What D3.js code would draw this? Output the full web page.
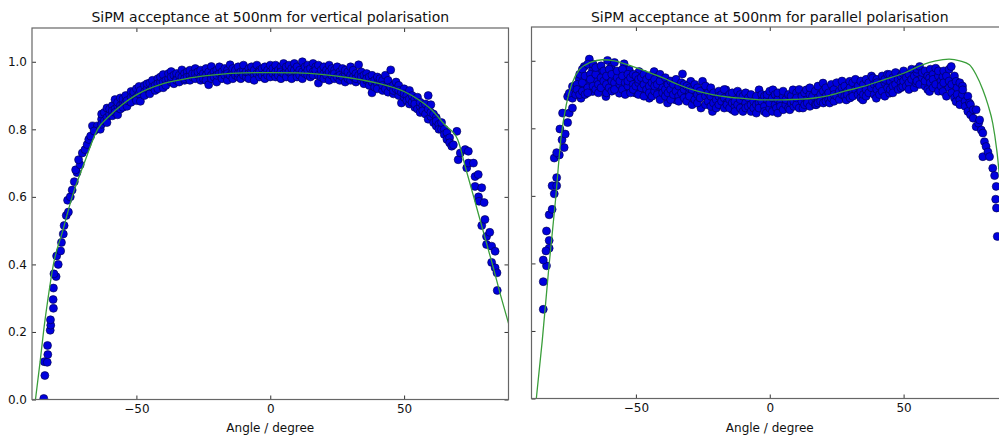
<!DOCTYPE html>
<html>
<head>
<meta charset="utf-8">
<script src="https://cdn.jsdelivr.net/npm/d3@7"></script>
<style>
  body { margin: 0; background: #fff; }
  svg { display: block; font-family: "DejaVu Sans", sans-serif; }
</style>
</head>
<body>
<svg id="chart" width="999" height="437"></svg>
<script>
// titles and tick values
let titles = ["SiPM acceptance at 500nm for vertical polarisation",
              "SiPM acceptance at 500nm for parallel polarisation"];
let xLabel = "Angle / degree";
let xTicks = [-50, 0, 50];
let yTicks = [0, 0.2, 0.4, 0.6, 0.8, 1.0];

// measured points [angle, acceptance] - vertical polarisation
let vertScatter = [
  [-84.6,0.003],[-84.2,0.071],[-84.4,0.112],[-83.3,0.11],[-83.1,0.133],[-83.2,0.16],[-82.2,0.205],[-82,0.22],
  [-82.1,0.236],[-81,0.27],[-81.1,0.296],[-81,0.33],[-80,0.364],[-80.8,0.372],[-79.2,0.4],[-79.8,0.425],
  [-78.3,0.44],[-78,0.465],[-77.3,0.49],[-77,0.515],[-76.2,0.545],[-75.4,0.555],[-75.7,0.59],[-74.7,0.6],
  [-74,0.62],[-73.2,0.645],[-72.2,0.672],[-72.7,0.68],[-71,0.695],[-71.6,0.71],[-70.2,0.73],[-69.2,0.74],
  [-68.4,0.755],[-67.8,0.77],[-67.1,0.78],[-66.4,0.81],[-64.5,0.81],[-65.8,0.795],[-63.5,0.8],
  [-63,0.83],[-63,0.815],[-63,0.845],[-62,0.825],[-62,0.85],[-61,0.863],[-61,0.835],[-61,0.82],
  [-60,0.845],[-60,0.86],[-59,0.84],[-59,0.87],[-59,0.855],[-58,0.888],[-58,0.86],[-58,0.85],
  [-57,0.843],[-57,0.87],[-57,0.88],[-56,0.893],[-56,0.87],[-56,0.86],[-55,0.875],[-55,0.89],[-55,0.865],
  [-54,0.9],[-54,0.88],[-53.5,0.868],[-53.5,0.885],[-52,0.912],[-52,0.895],[-52,0.88],[-51,0.9],[-51,0.91],
  [-50,0.92],[-50,0.895],[-50,0.885],[-49,0.927],[-49,0.905],[-48.5,0.883],[-48.5,0.915],
  [-47,0.93],[-47,0.91],[-47,0.9],[-46,0.92],[-46,0.935],[-45,0.937],[-45,0.915],[-45,0.905],
  [-44,0.925],[-44,0.945],[-43,0.93],[-43,0.915],[-42,0.95],[-42,0.935],[-42,0.92],[-41,0.94],[-41,0.955],
  [-40,0.962],[-40,0.923],[-40,0.94],[-39,0.945],[-39,0.93],[-38,0.95],[-38,0.965],
  [-37,0.971],[-37,0.94],[-37,0.955],[-36,0.935],[-36,0.96],[-35,0.95],[-35,0.965],[-35,0.945],
  [-34,0.96],[-34,0.94],[-33,0.976],[-33,0.955],[-32,0.945],[-32,0.965],[-32,0.95],[-31,0.97],[-31,0.955],
  [-30,0.96],[-30,0.945],[-30,0.975],[-29,0.955],[-29,0.965],[-28,0.98],[-28,0.95],[-28,0.965],
  [-27,0.96],[-27,0.97],[-26,0.955],[-26,0.975],[-26,0.945],[-25,0.965],[-25,0.95],
  [-24,0.98],[-24,0.96],[-24,0.945],[-23,0.932],[-23,0.97],[-22,0.986],[-22,0.96],[-22,0.95],
  [-21,0.97],[-21,0.955],[-20,0.94],[-20,0.975],[-20,0.96],[-19,0.965],[-19,0.985],
  [-18,0.955],[-18,0.97],[-18,0.95],[-17,0.98],[-17,0.96],[-16,0.945],[-16,0.975],[-16,0.965],
  [-15,0.991],[-15,0.96],[-14,0.97],[-14,0.95],[-14,0.98],[-13,0.96],[-13,0.975],
  [-12,0.985],[-12,0.955],[-12,0.965],[-11,0.97],[-11,0.95],[-10,0.975],[-10,0.96],[-10,0.99],
  [-9,0.955],[-9,0.97],[-8,0.98],[-8,0.965],[-8,0.95],[-7,0.97],[-7,0.985],
  [-6,0.96],[-6,0.945],[-6,0.975],[-5,0.99],[-5,0.965],[-4,0.955],[-4,0.975],[-4,0.97],
  [-3,0.98],[-3,0.96],[-2,0.965],[-2,0.95],[-2,0.985],[-1,0.975],[-1,0.96],
  [0,0.97],[0,0.99],[0,0.955],[1,0.965],[1,0.98],[2,0.99],[2,0.955],[2,0.97],[3,0.975],[3,0.96],
  [4,0.985],[4,0.95],[4,0.97],[5,0.995],[5,0.965],[6,0.975],[6,0.955],[6,0.985],[7,0.97],[7,0.99],
  [8,0.96],[8,0.98],[8,0.95],[9,0.975],[9,0.995],[10,0.965],[10,0.985],[10,0.955],[11,0.975],[11,0.96],
  [12,1.0],[12,0.97],[12,0.95],[13,0.985],[13,0.965],[14,0.96],[14,0.99],[14,0.975],[15,0.955],[15,0.98],
  [16,0.995],[16,0.97],[16,0.96],[17,0.985],[17,0.975],[18,0.937],[18,0.96],[18,0.99],[19,0.975],[19,0.955],
  [20,0.965],[20,0.985],[20,0.95],[21,0.975],[21,0.96],[22,0.99],[22,0.945],[22,0.97],[23,0.96],[23,0.98],
  [24,0.95],[24,0.975],[24,0.965],[25,0.985],[25,0.955],[26,0.97],[26,0.945],[26,0.96],[27,0.98],[27,0.955],
  [28,0.965],[28,0.94],[28,0.975],[29,0.95],[29,0.97],[30,0.96],[30,0.985],[30,0.945],[31,0.975],[31,0.955],
  [32,0.94],[32,0.965],[32,0.95],[33,0.991],[33,0.96],[34,0.945],[34,0.97],[34,0.955],[35,0.935],[35,0.96],
  [36,0.965],[36,0.945],[36,0.95],[37,0.955],[37,0.93],[38,0.908],[38,0.96],[38,0.94],[39,0.945],[39,0.925],
  [40,0.955],[40,0.935],[40,0.92],[41,0.94],[41,0.95],[42,0.915],[42,0.945],[42,0.93],[43,0.96],[43,0.92],
  [44,0.935],[44,0.91],[44,0.945],[45,0.976],[45,0.925],[46,0.93],[46,0.905],[46,0.915],[47,0.94],[47,0.92],
  [48,0.9],[48,0.93],[48,0.915],[49,0.878],[49,0.91],[50,0.92],[50,0.895],[50,0.905],[51,0.9],[51,0.885],
  [52,0.915],[52,0.875],[52,0.89],[53,0.88],[53,0.9],[54,0.865],[54,0.89],[54,0.875],[55,0.895],[55,0.86],
  [56,0.868],[56,0.88],[56,0.85],[57,0.87],[57,0.855],[58,0.845],[58,0.875],[59,0.9],[59,0.86],[59,0.83],
  [60,0.873],[60,0.838],[60,0.85],[61,0.82],[61,0.845],[62,0.835],[62,0.81],[62,0.825],[63,0.815],[63,0.8],
  [64,0.8],[64,0.82],[65,0.8],[65,0.785],[66,0.79],[66,0.77],[67,0.775],[67,0.76],[67.8,0.75],[68.4,0.754],
  [69.7,0.794],[70.2,0.71],[71,0.73],[72.8,0.74],[73.4,0.686],[74,0.735],[74,0.70],[75.9,0.70],
  [76.5,0.66],[76.5,0.631],[77.7,0.666],[77.8,0.6],[78,0.587],[79,0.627],[79,0.515],[79.9,0.583],
  [80.2,0.533],[80.8,0.483],[80.8,0.459],[82,0.495],[82.7,0.454],[82.7,0.406],[84,0.439],[84,0.39],
  [84.7,0.375],[84.8,0.323]
];

// fitted curve
let vertFit = [
  [-87.7,0],[-86,0.11],[-84.7,0.2],[-83,0.3],[-81,0.4],[-77.5,0.5],[-74,0.6],[-69.5,0.7],[-64.5,0.8],
  [-60,0.84],[-55,0.875],[-50,0.902],[-40,0.935],[-30,0.952],[-20,0.962],[-10,0.967],[0,0.968],
  [10,0.967],[20,0.962],[30,0.952],[40,0.937],[50,0.912],[55,0.89],[60,0.86],[65,0.815],[70,0.77],
  [73,0.685],[76,0.6],[80,0.485],[83,0.4],[86,0.31],[89.2,0.22]
];

// measured points - parallel polarisation
let parScatter = [
  [-84.6,0.264],[-84.6,0.346],[-83.4,0.393],[-84.6,0.41],[-82.4,0.445],[-83.6,0.437],[-82.4,0.468],[-83.4,0.496],
  [-82.4,0.544],[-81.3,0.56],[-80.5,0.606],[-81.3,0.63],[-79.6,0.63],[-79.6,0.654],[-80.5,0.712],[-78.6,0.721],
  [-79.6,0.728],[-76.8,0.743],[-77.6,0.766],[-76.4,0.783],[-78.4,0.798],[-75.5,0.817],[-77.4,0.845],[-74.9,0.845],
  [-73.7,0.86],[-75.5,0.894],[-73.7,0.889],[-74.9,0.904],[-73.7,0.924],[-70.5,0.889],[-72.5,0.9],[-71.2,0.946],
  [-69.9,0.924],[-69.3,0.983],[-68.7,0.953],[-67.4,1.005],[-67.4,0.934],[-66.2,0.973],[-66.2,0.909],[-64.9,0.939],
  [-63.7,0.965],[-61.8,0.914],[-61.2,0.894],[-60.6,1.001],[-60,0.949],[-59.3,0.981],[-57.5,0.924],[-56.2,0.963],
  [-56.2,0.904],[-54.4,0.991],[-53.7,0.949],[-52.5,0.973],[-52.5,0.919],[-50,0.944],[-50,0.904],[-48.8,0.968],
  [-46.9,0.909],[-45.7,0.939],[-45,0.889],[-43.2,0.968],[-41.9,0.953],[-41.3,0.914],[-38.8,0.934],[-38.2,0.875],
  [-37.6,0.894],[-35.1,0.919],[-35.1,0.884],[-32.6,0.961],[-31.3,0.909],[-29.5,0.939],[-28.2,0.894],[-25.7,0.86],
  [-25.1,0.939],[-25.1,0.914],[-22.6,0.884],[-21.4,0.85],[-20.1,0.904],[-17.7,0.87],[-16.4,0.914],[-14,0.855],
  [-12.7,0.894],[-10.2,0.87],[-7.7,0.884],[-4,0.914],[-2.8,0.86],
  [-72,0.93],[-72,0.915],[-71,0.96],[-71,0.9],[-70,0.975],[-70,0.91],[-70,0.935],[-69,0.9],[-69,0.955],
  [-68,0.99],[-68,0.92],[-68,0.905],[-67,0.96],[-67,0.945],[-66,0.925],[-66,0.99],[-65,0.96],[-65,0.915],[-65,0.98],
  [-64,0.93],[-64,0.905],[-63,0.95],[-63,0.985],[-63,0.92],[-62,0.94],[-62,0.97],[-61,0.93],[-61,0.955],[-61,0.905],
  [-60,0.92],[-60,0.975],[-59,0.94],[-59,0.91],[-59,0.96],[-58,0.935],[-58,0.995],[-58,0.915],[-57,0.95],[-57,0.97],
  [-56,0.93],[-56,0.94],[-55,0.915],[-55,0.975],[-55,0.955],[-54,0.935],[-54,0.9],[-53,0.96],[-53,0.925],[-53,0.94],
  [-52,0.905],[-52,0.95],[-51,0.93],[-51,0.96],[-51,0.915],[-50,0.925],[-50,0.955],[-49,0.9],[-49,0.935],[-49,0.945],
  [-48,0.92],[-48,0.95],[-47,0.93],[-47,0.96],[-47,0.895],[-46,0.915],[-46,0.945],[-45,0.925],[-45,0.905],[-45,0.955],
  [-44,0.935],[-44,0.895],[-43,0.91],[-43,0.945],[-43,0.925],[-42,0.9],[-42,0.93],[-41,0.94],[-41,0.885],[-41,0.96],
  [-40,0.92],[-40,0.905],[-39,0.95],[-39,0.895],[-39,0.915],[-38,0.93],[-38,0.905],[-37,0.94],[-37,0.915],[-37,0.885],
  [-36,0.9],[-36,0.93],[-35,0.945],[-35,0.91],[-34,0.895],[-34,0.925],[-34,0.88],[-33,0.935],[-33,0.905],
  [-32,0.915],[-32,0.89],[-32,0.93],[-31,0.88],[-31,0.925],[-30,0.905],[-30,0.895],[-30,0.92],[-29,0.87],[-29,0.915],
  [-28,0.93],[-28,0.885],[-27,0.9],[-27,0.875],[-27,0.92],[-26,0.91],[-26,0.89],[-24,0.895],[-24,0.87],[-24,0.925],
  [-23,0.905],[-23,0.88],[-22,0.865],[-22,0.92],[-22,0.895],[-21,0.875],[-21,0.905],[-20,0.885],[-20,0.86],
  [-19,0.91],[-19,0.87],[-19,0.895],[-18,0.88],[-18,0.9],[-17,0.86],[-17,0.915],[-17,0.89],[-16,0.875],[-16,0.87],
  [-15,0.9],[-15,0.86],[-15,0.885],[-14,0.905],[-14,0.875],[-13,0.865],[-13,0.88],[-13,0.85],[-12,0.91],[-12,0.87],
  [-11,0.885],[-11,0.86],[-11,0.9],[-10,0.85],[-10,0.895],[-9,0.875],[-9,0.905],[-9,0.86],[-8,0.865],[-8,0.89],
  [-7,0.85],[-7,0.9],[-7,0.87],[-6,0.88],[-6,0.86],[-5,0.895],[-5,0.845],[-5,0.87],[-4,0.875],[-4,0.86],
  [-3,0.9],[-3,0.88],[-2,0.865],[-2,0.895],[-2,0.85],[-1.3,0.845],[-1,0.885],[-1,0.9],
  [0,0.86],[0,0.875],[0,0.91],[1,0.85],[1,0.89],[1.2,0.914],[2,0.87],[2,0.9],[2.5,0.86],
  [3,0.885],[3,0.845],[3,0.905],[4,0.875],[4,0.865],[5,0.895],[5,0.855],[5,0.91],[6,0.87],[6,0.885],
  [7,0.9],[7,0.86],[7.5,0.855],[8,0.875],[8,0.895],[8.7,0.914],[9,0.865],[9,0.88],[10,0.905],[10,0.87],[10,0.89],
  [11,0.86],[11,0.915],[12,0.88],[12,0.895],[12.4,0.86],[13,0.87],[13,0.905],[13.7,0.914],[14,0.885],[14,0.875],
  [15,0.9],[15,0.865],[15,0.92],[16,0.88],[16,0.895],[17,0.87],[17,0.91],[17.4,0.87],[18,0.89],[18,0.925],[18,0.875],
  [19,0.9],[19,0.88],[19.9,0.934],[20,0.875],[20,0.91],[21,0.895],[21,0.92],[21,0.88],[22,0.905],[22,0.885],[22.4,0.875],
  [23,0.93],[23,0.89],[24,0.88],[24,0.915],[24,0.9],[25,0.935],[25,0.895],[26,0.885],[26,0.91],
  [27,0.92],[27,0.9],[27,0.94],[28,0.895],[28,0.925],[28.6,0.884],[29,0.91],[29,0.9],[29.9,0.939],[30,0.89],[30,0.92],
  [31,0.935],[31,0.905],[31,0.895],[32,0.915],[32,0.945],[33,0.9],[33,0.925],[34,0.89],[34,0.94],[34,0.91],[34.8,0.884],
  [35,0.93],[35,0.9],[36,0.915],[36,0.945],[36,0.895],[37,0.935],[37,0.905],[38,0.92],[38,0.955],[38.5,0.949],
  [39,0.9],[39,0.93],[39.8,0.889],[40,0.945],[40,0.915],[40,0.935],[41,0.9],[41,0.925],[42,0.955],[42,0.91],
  [43,0.935],[43,0.895],[43,0.945],[44,0.92],[44,0.96],[44.8,0.904],[44.8,0.959],[45,0.94],[45,0.915],
  [46,0.925],[46,0.95],[46,0.905],[47,0.965],[47,0.93],[48,0.915],[48,0.945],[49,0.935],[49,0.955],[49,0.92],
  [49.7,0.924],[49.7,0.963],[50,0.94],[50,0.97],[51,0.925],[51,0.95],[52,0.96],[52,0.935],[52,0.915],[53,0.945],[53,0.975],
  [54,0.92],[54,0.955],[54.7,0.934],[55,0.965],[55,0.94],[55,0.975],[56,0.983],[56,0.93],[57,0.95],[57,0.965],
  [58,0.925],[58,0.97],[58,0.94],[59,0.955],[59,0.915],[59.7,0.949],[59.7,0.909],[60,0.975],[60,0.935],
  [61,0.96],[61,0.92],[61,0.945],[62,0.978],[62,0.93],[63,0.955],[63,0.97],[63,0.91],[64,0.94],[64,0.925],
  [64.7,0.953],[64.7,0.909],[65,0.97],[65,0.935],[66,0.895],[66,0.955],[67,0.94],[67,0.92],[67,0.975],[67.8,0.983],
  [68,0.905],[68,0.93],[69,0.955],[69,0.89],[69.6,0.939],[69.6,0.879],[70,0.92],[70,0.9],
  [71,0.935],[71,0.885],[71,0.87],[72,0.9],[72,0.925],[72.1,0.914],[73,0.88],[73,0.865],[74,0.895],[74,0.85],
  [74.6,0.875],[75,0.87],[75,0.84],[76,0.855],[76,0.83],[77.1,0.855],[77.1,0.805],[78,0.815],[78.4,0.825],
  [79,0.795],[79.6,0.786],[79.6,0.716],[80.2,0.76],[80.8,0.746],[81.5,0.73],[82.1,0.716],[83.3,0.682],[84,0.66],
  [84.6,0.628],[84.4,0.59],[84.7,0.564],[85,0.48]
];

let parFit = [
  [-87.2,0],[-85,0.17],[-82.5,0.39],[-80,0.59],[-78,0.77],[-76,0.87],[-74,0.93],[-71,0.975],[-67,0.995],
  [-62.5,1.003],[-58,1.0],[-55,0.993],[-50,0.98],[-46,0.968],[-40,0.95],[-34,0.929],[-28,0.912],[-21,0.899],
  [-15,0.892],[-9,0.888],[-3,0.884],[0,0.884],[5,0.884],[10,0.886],[16,0.889],[22,0.897],[28,0.91],[35,0.924],
  [42,0.942],[50,0.963],[57,0.988],[62,1.0],[67,1.005],[71,1.0],[74.6,0.988],[77,0.96],[79.6,0.914],
  [81.5,0.87],[83.3,0.815],[84.8,0.736],[86.5,0.6]
];

let svg = d3.select("#chart");

let panels = [
  {title: titles[0], pts: vertScatter, fit: vertFit, x0: 32, x1: 508.5, y0: 399.5, y1: 28, labels: true},
  {title: titles[1], pts: parScatter, fit: parFit, x0: 531.5, x1: 1008, y0: 398.5, y1: 27, labels: false}
];

panels.forEach(function (p, i) {
    let x = d3.scaleLinear().domain([-89, 89]).range([p.x0, p.x1]);
    let y = d3.scaleLinear().domain([0, 1.1]).range([p.y0, p.y1]);
    let g = svg.append("g");

    g.append("clipPath").attr("id", "clip" + i)
        .append("rect")
        .attr("x", p.x0).attr("y", p.y1)
        .attr("width", p.x1 - p.x0).attr("height", p.y0 - p.y1);

    let plot = g.append("g").attr("clip-path", "url(#clip" + i + ")");

    plot.selectAll("circle")
        .data(p.pts)
        .enter().append("circle")
        .attr("cx", d => x(d[0]))
        .attr("cy", d => y(d[1]))
        .attr("r", 4)
        .attr("fill", "#0000dd")
        .attr("stroke", "#000044")
        .attr("stroke-width", 0.6);

    let line = d3.line()
        .x(d => x(d[0]))
        .y(d => y(d[1]))
        .curve(d3.curveMonotoneX);

    plot.append("path")
        .datum(p.fit)
        .attr("fill", "none")
        .attr("stroke", "#3a9e3a")
        .attr("stroke-width", 1.3)
        .attr("d", line);

    // axes with inward ticks on all sides
    let fmtY = p.labels ? d3.format(".1f") : () => "";
    let axes = [
        {ax: d3.axisBottom(x).tickValues(xTicks).tickFormat(d3.format("d")), tr: "translate(0," + p.y0 + ")"},
        {ax: d3.axisTop(x).tickValues(xTicks).tickFormat(""), tr: "translate(0," + p.y1 + ")"},
        {ax: d3.axisLeft(y).tickValues(yTicks).tickFormat(fmtY), tr: "translate(" + p.x0 + ",0)"},
        {ax: d3.axisRight(y).tickValues(yTicks).tickFormat(""), tr: "translate(" + p.x1 + ",0)"}
    ];
    axes.forEach(function (a) {
        let ag = g.append("g").attr("transform", a.tr)
            .call(a.ax.tickSizeInner(-4).tickSizeOuter(0).tickPadding(5));
        ag.select(".domain").remove();
        ag.selectAll("line").attr("stroke", "#333");
        ag.selectAll("text").attr("font-size", 12).attr("fill", "#111")
            .attr("font-family", "DejaVu Sans, sans-serif");
    });

    g.append("rect")
        .attr("x", p.x0).attr("y", p.y1)
        .attr("width", p.x1 - p.x0).attr("height", p.y0 - p.y1)
        .attr("fill", "none").attr("stroke", "#666").attr("stroke-width", 1.2);

    g.append("text")
        .attr("x", (p.x0 + p.x1) / 2).attr("y", 22)
        .attr("text-anchor", "middle").attr("font-size", 14).attr("fill", "#111")
        .text(p.title);

    g.append("text")
        .attr("x", x(0)).attr("y", 432)
        .attr("text-anchor", "middle").attr("font-size", 12).attr("fill", "#111")
        .text(xLabel);
});
</script>
</body>
</html>
